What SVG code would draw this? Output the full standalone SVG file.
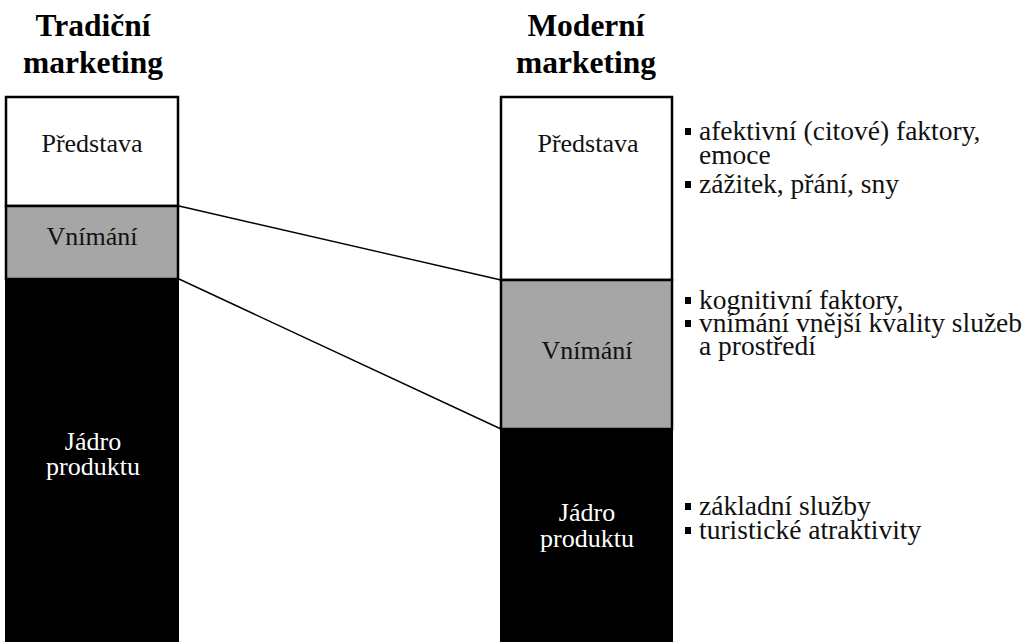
<svg xmlns="http://www.w3.org/2000/svg" width="1033" height="642" viewBox="0 0 1033 642">
<style>
text{font-family:'Liberation Serif','Times New Roman',serif}
.hdr{font-weight:bold;font-size:31.5px;fill:#000;text-anchor:middle}
.lbl{font-size:26px;fill:#111;text-anchor:middle}
.lblw{font-size:26px;fill:#fff;text-anchor:middle}
.bt{font-size:27.5px;fill:#111}
.box{stroke:#000;stroke-width:2.5}
.grey{fill:#a6a6a6}
.conn{stroke:#000;stroke-width:1.4;fill:none}
.blt{fill:#000}
</style>
<rect width="1033" height="642" fill="#fff"/>
<g id="headers">
<text class="hdr" x="93" y="36">Tradiční</text>
<text class="hdr" x="93" y="73">marketing</text>
<text class="hdr" x="586" y="36">Moderní</text>
<text class="hdr" x="586" y="73">marketing</text>
</g>
<g id="traditional">
<g id="trad-predstava">
<rect x="6" y="97" width="172" height="109" fill="#fff" class="box"/>
<text class="lbl" x="92" y="152">Představa</text>
</g>
<g id="trad-vnimani">
<rect x="6" y="206" width="172" height="73" class="grey box"/>
<text class="lbl" x="92" y="245">Vnímání</text>
</g>
<g id="trad-jadro">
<rect x="5" y="279" width="174" height="370" fill="#000"/>
<text class="lblw" x="93" y="450">Jádro</text>
<text class="lblw" x="93" y="475">produktu</text>
</g>
</g>
<g id="modern">
<g id="mod-predstava">
<rect x="501" y="97" width="171" height="183" fill="#fff" class="box"/>
<text class="lbl" x="588" y="152">Představa</text>
</g>
<g id="mod-vnimani">
<rect x="501" y="280" width="171" height="149" class="grey box"/>
<text class="lbl" x="587" y="359">Vnímání</text>
</g>
<g id="mod-jadro">
<rect x="500" y="429" width="173" height="220" fill="#000"/>
<text class="lblw" x="587" y="521">Jádro</text>
<text class="lblw" x="587" y="547">produktu</text>
</g>
</g>
<g id="connectors">
<line class="conn" x1="179" y1="206" x2="501" y2="280"/>
<line class="conn" x1="179" y1="279" x2="501" y2="429"/>
</g>
<g id="notes-predstava">
<rect class="blt" x="685" y="128" width="6" height="7"/>
<text class="bt" x="699" y="140">afektivní (citové) faktory,</text>
<text class="bt" x="699" y="164">emoce</text>
<rect class="blt" x="685" y="181" width="6" height="7"/>
<text class="bt" x="699" y="193">zážitek, přání, sny</text>
</g>
<g id="notes-vnimani">
<rect class="blt" x="685" y="297" width="6" height="7"/>
<text class="bt" x="699" y="309">kognitivní faktory,</text>
<rect class="blt" x="685" y="320" width="6" height="7"/>
<text class="bt" x="699" y="332">vnímání vnější kvality služeb</text>
<text class="bt" x="699" y="355">a prostředí</text>
</g>
<g id="notes-jadro">
<rect class="blt" x="685" y="503" width="6" height="7"/>
<text class="bt" x="699" y="515">základní služby</text>
<rect class="blt" x="685" y="527" width="6" height="7"/>
<text class="bt" x="699" y="539">turistické atraktivity</text>
</g>
</svg>
